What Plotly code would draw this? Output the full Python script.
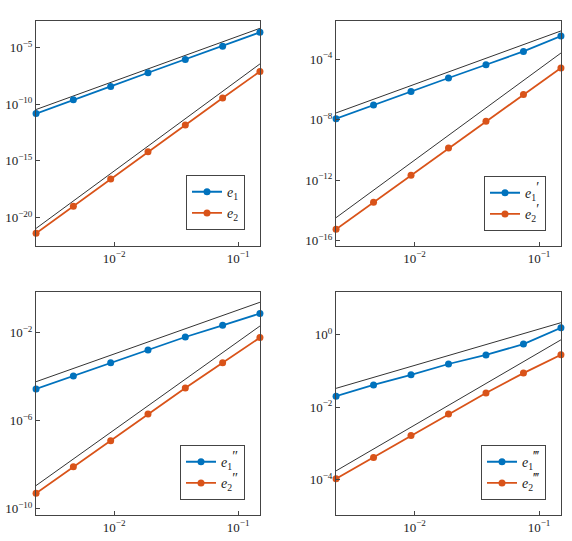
import math
import plotly.graph_objects as go

# mesh sizes
h = [0.00234375, 0.0046875, 0.009375, 0.01875, 0.0375, 0.075, 0.15]
h_ref = [0.00234375, 0.15]

# panel 1: e1, e2
p1_e1 = [1.48e-11, 2.5e-10, 3.7e-9, 6.0e-8, 8.9e-7, 1.3e-5, 2.2e-4]
p1_e2 = [4.0e-22, 1.0e-19, 2.5e-17, 6.5e-15, 1.5e-12, 3.5e-10, 7.8e-8]
p1_r1 = [3.4e-11, 5.0e-4]
p1_r2 = [1.1e-21, 3.6e-7]

# panel 2: e1', e2'
p2_e1 = [1.15e-8, 9.3e-8, 7.2e-7, 5.6e-6, 4.2e-5, 3.2e-4, 3.3e-3]
p2_e2 = [5.6e-16, 3.4e-14, 2.1e-12, 1.3e-10, 7.8e-9, 4.5e-7, 2.6e-5]
p2_r1 = [2.75e-8, 7.2e-3]
p2_r2 = [3.3e-15, 2.5e-4]

# panel 3: e1'', e2''
p3_e1 = [2.7e-5, 1.05e-4, 4.2e-4, 1.6e-3, 6.2e-3, 2.1e-2, 7.2e-2]
p3_e2 = [4.9e-10, 7.8e-9, 1.2e-7, 1.95e-6, 3.0e-5, 4.2e-4, 5.8e-3]
p3_r1 = [5.75e-5, 0.234]
p3_r2 = [1.1e-9, 1.95e-2]

# panel 4: e1''', e2'''
p4_e1 = [0.020, 0.041, 0.078, 0.155, 0.275, 0.55, 1.55]
p4_e2 = [1.05e-4, 4.1e-4, 1.66e-3, 6.5e-3, 2.45e-2, 8.7e-2, 0.28]
p4_r1 = [0.033, 2.14]
p4_r2 = [1.74e-4, 0.72]

primes = ["", "′", "″", "‴"]


def lname(idx, p):
    if not p:
        return "<i>e</i><sub>%d</sub>" % idx
    return ("<i>e</i><sub>%d</sub><sup><span style='font-size:14px'>%s</span></sup>" % (idx, p))


names = [(lname(1, p), lname(2, p)) for p in primes]

xticks = [0.01, 0.1]
xticktext = ["10<sup>−2</sup>", "10<sup>−1</sup>"]

yticks = [
    [1e-20, 1e-15, 1e-10, 1e-5],
    [1e-16, 1e-12, 1e-8, 1e-4],
    [1e-10, 1e-6, 1e-2],
    [1e-4, 1e-2, 1e0],
]
ytext = [
    ["10<sup>−20</sup>", "10<sup>−15</sup>", "10<sup>−10</sup>", "10<sup>−5</sup>"],
    ["10<sup>−16</sup>", "10<sup>−12</sup>", "10<sup>−8</sup>", "10<sup>−4</sup>"],
    ["10<sup>−10</sup>", "10<sup>−6</sup>", "10<sup>−2</sup>"],
    ["10<sup>−4</sup>", "10<sup>−2</sup>", "10<sup>0</sup>"],
]
yranges = [[-22.52, -2.65], [-16.36, -1.48], [-10.30, -0.16], [-4.98, 1.18]]

panels = [
    (p1_e1, p1_e2, p1_r1, p1_r2),
    (p2_e1, p2_e2, p2_r1, p2_r2),
    (p3_e1, p3_e2, p3_r1, p3_r2),
    (p4_e1, p4_e2, p4_r1, p4_r2),
]

W, H = 572, 541
# plot-area boxes in pixels (left, top, right, bottom)
boxes = [(36, 21, 260, 247), (336, 21, 561, 247), (36, 293, 260, 517), (336, 293, 561, 517)]
# legend anchor (right, bottom) in pixels
leg_pos = [(245, 231), (546, 232), (245, 502), (546, 502)]

BLUE = "#0072BD"
ORANGE = "#D95319"
FONT = "Liberation Serif"

xr = [math.log10(min(h)) - 0.0005, math.log10(max(h)) + 0.0005]

fig = go.Figure()
layout = dict(
    width=W, height=H,
    margin=dict(l=0, r=0, t=0, b=0),
    paper_bgcolor="white", plot_bgcolor="white",
    font=dict(family=FONT, size=13, color="#222"),
)

for i, (e1, e2, r1, r2) in enumerate(panels):
    k = "" if i == 0 else str(i + 1)
    xa, ya = "x" + k, "y" + k
    leg = "legend" + k
    fig.add_trace(go.Scatter(x=h_ref, y=r1, xaxis=xa, yaxis=ya, mode="lines",
                             line=dict(color="#333", width=1), showlegend=False, hoverinfo="skip"))
    fig.add_trace(go.Scatter(x=h_ref, y=r2, xaxis=xa, yaxis=ya, mode="lines",
                             line=dict(color="#333", width=1), showlegend=False, hoverinfo="skip"))
    fig.add_trace(go.Scatter(x=h, y=e1, xaxis=xa, yaxis=ya, mode="lines+markers", name=names[i][0],
                             line=dict(color=BLUE, width=1.8), marker=dict(size=7, color=BLUE),
                             legend=leg, cliponaxis=False))
    fig.add_trace(go.Scatter(x=h, y=e2, xaxis=xa, yaxis=ya, mode="lines+markers", name=names[i][1],
                             line=dict(color=ORANGE, width=1.8), marker=dict(size=7, color=ORANGE),
                             legend=leg, cliponaxis=False))
    l, t, r, b = boxes[i]
    axcommon = dict(showline=True, linecolor="#444", linewidth=1, mirror=True,
                    ticks="inside", ticklen=4, tickcolor="#444", showgrid=False,
                    zeroline=False, tickfont=dict(family=FONT, size=13, color="#222"))
    layout["xaxis" + k] = dict(type="log", domain=[l / W, r / W],
                               range=xr, tickvals=xticks, ticktext=xticktext,
                               anchor=ya, **axcommon)
    layout["yaxis" + k] = dict(type="log", domain=[(H - b) / H, (H - t) / H],
                               range=yranges[i], tickvals=yticks[i], ticktext=ytext[i],
                               anchor=xa, **axcommon)
    lx, ly = leg_pos[i]
    layout[leg] = dict(x=lx / W, y=(H - ly) / H, xanchor="right", yanchor="bottom",
                       bordercolor="#444", borderwidth=1, bgcolor="white",
                       font=dict(family=FONT, size=14, color="#222"),
                       itemwidth=30, tracegroupgap=0)

fig.update_layout(**layout)
fig.write_html("out.html")
